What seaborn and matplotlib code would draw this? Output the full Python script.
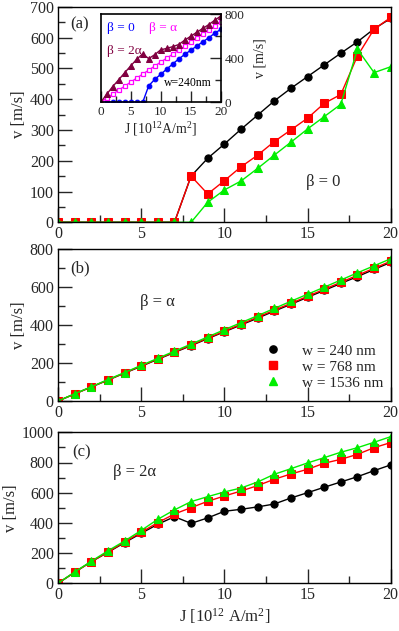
import numpy as np
import pandas as pd
import matplotlib
matplotlib.use("Agg")
import matplotlib.pyplot as plt
from matplotlib.lines import Line2D
from matplotlib.ticker import MultipleLocator
import seaborn as sns

# ---------------- data ----------------
J = list(range(21))

# panel (a) beta = 0
a_240 = [0, 0, 0, 0, 0, 0, 0, 0, 150, 208, 254, 302, 348, 394, 435, 473, 511, 549, 586, 628, 662]
a_768 = [0, 0, 0, 0, 0, 0, 0, 0, 150, 92, 135, 180, 218, 262, 300, 338, 386, 415, 540, 627, 665]
a_1536 = [0, 0, 0, 0, 0, 0, 0, 0, 0, 65, 105, 134, 175, 218, 260, 303, 343, 383, 562, 486, 505]

# panel (b) beta = alpha
b_240 = [0, 37, 74, 110, 147, 183, 220, 256, 292, 329, 365, 401, 437, 474, 510, 547, 583, 620, 656, 694, 731]
b_768 = [0, 37, 74, 111, 148, 185, 222, 258, 295, 332, 368, 405, 442, 479, 515, 552, 589, 626, 663, 700, 737]
b_1536 = [0, 38, 75, 113, 150, 188, 225, 263, 300, 338, 376, 413, 450, 488, 526, 563, 600, 638, 676, 713, 750]

# panel (c) beta = 2 alpha
c_240 = [0, 73, 143, 205, 269, 331, 391, 441, 397, 433, 477, 490, 506, 525, 565, 600, 636, 671, 706, 746, 784]
c_768 = [0, 73, 143, 208, 273, 338, 402, 459, 501, 543, 578, 611, 647, 689, 724, 755, 795, 821, 854, 898, 932]
c_1536 = [0, 75, 146, 215, 280, 350, 424, 486, 541, 574, 605, 631, 671, 722, 759, 797, 832, 868, 898, 934, 971]

width_labels = ["w = 240 nm", "w = 768 nm", "w = 1536 nm"]
beta_labels = ["β = 0", "β = α", "β = 2α"]
panel_labels = ["(a)", "(b)", "(c)"]

# ---------------- style ----------------
sns.set_style("ticks")
plt.rcParams['font.family'] = ['Liberation Serif', 'DejaVu Serif']
plt.rcParams['mathtext.fontset'] = 'custom'
plt.rcParams['mathtext.rm'] = 'Liberation Serif'
plt.rcParams['mathtext.it'] = 'Liberation Serif:italic'
plt.rcParams['axes.linewidth'] = 1.0
plt.rcParams['axes.edgecolor'] = 'black'

colors = ["black", "red", "#00ee00"]
markers = ["o", "s", "^"]
msizes = [5.2, 5.2, 5.8]

W, H = 399, 631
fig = plt.figure(figsize=(W / 100, H / 100), dpi=100)

def frac_box(x0, x1, ytop, ybot):
    return [x0 / W, 1 - ybot / H, (x1 - x0) / W, (ybot - ytop) / H]

axA = fig.add_axes(frac_box(58, 390.7, 6.7, 222.3))
axB = fig.add_axes(frac_box(58, 390.7, 249.3, 401))
axC = fig.add_axes(frac_box(58, 390.7, 432.3, 583.3))

def draw(ax, series):
    for vals, c, m, ms, lab in zip(series, colors, markers, msizes, width_labels):
        df = pd.DataFrame({"J": J, "v": vals})
        sns.lineplot(data=df, x="J", y="v", ax=ax, color=c, marker=m, markersize=ms,
                     markeredgecolor=c, linewidth=1.0, legend=False)

draw(axA, [a_240, a_768, a_1536])
draw(axB, [b_240, b_768, b_1536])
draw(axC, [c_240, c_768, c_1536])

def style_main(ax, ymax, ymaj, ymin):
    ax.set_xlim(0, 20)
    ax.set_ylim(0, ymax)
    ax.xaxis.set_major_locator(MultipleLocator(5))
    ax.xaxis.set_minor_locator(MultipleLocator(2.5))
    ax.yaxis.set_major_locator(MultipleLocator(ymaj))
    ax.yaxis.set_minor_locator(MultipleLocator(ymin))
    ax.tick_params(which='major', direction='in', length=10, width=1.0, labelsize=11.5,
                   top=False, right=False, pad=3)
    ax.tick_params(which='minor', direction='in', length=5, width=1.0, top=False, right=False)
    ax.set_ylabel("v [m/s]", fontsize=12, labelpad=2)
    ax.set_xlabel("")
    for s in ax.spines.values():
        s.set_visible(True)
        s.set_linewidth(1.0)

style_main(axA, 700, 100, 50)
style_main(axB, 800, 200, 100)
style_main(axC, 1000, 200, 100)
axC.set_xlabel("J [10$^{12}$ A/m$^2$]", fontsize=12, labelpad=2)

axA.text(0.036, 0.918, "(a)", transform=axA.transAxes, fontsize=12, va='center', ha='left')
axB.text(0.036, 0.877, "(b)", transform=axB.transAxes, fontsize=12, va='center', ha='left')
axC.text(0.042, 0.87, "(c)", transform=axC.transAxes, fontsize=12, va='center', ha='left')
axA.text(0.797, 0.187, beta_labels[0], transform=axA.transAxes, fontsize=12, va='center', ha='center')
axB.text(0.30, 0.653, beta_labels[1], transform=axB.transAxes, fontsize=12, va='center', ha='center')
axC.text(0.229, 0.739, beta_labels[2], transform=axC.transAxes, fontsize=12, va='center', ha='center')

# legend in (b)
handles = [Line2D([], [], linestyle='none', marker=m, color=c, markersize=ms, markeredgecolor=c)
           for c, m, ms in zip(colors, markers, msizes)]
axB.legend(handles, width_labels, loc='center left', bbox_to_anchor=(0.6, 0.225),
           frameon=False, fontsize=11, handletextpad=1.4, labelspacing=0.15,
           borderpad=0, handlelength=1.0)

# ---------------- inset ----------------
axI = fig.add_axes(frac_box(100.7, 220.7, 14.3, 102.3))
inset_colors = ["#0000ff", "#ff00ff", "#800040"]
inset_series = [a_240, b_240, c_240]
df0 = pd.DataFrame({"J": J, "v": inset_series[0]})
sns.lineplot(data=df0, x="J", y="v", ax=axI, color=inset_colors[0], marker='o', markersize=3.4,
             markeredgecolor=inset_colors[0], linewidth=1.0, legend=False)
df1 = pd.DataFrame({"J": J, "v": inset_series[1]})
sns.lineplot(data=df1, x="J", y="v", ax=axI, color=inset_colors[1], marker='s', markersize=3.4,
             markerfacecolor='white', markeredgecolor=inset_colors[1], markeredgewidth=0.9,
             linewidth=1.0, legend=False)
sns.scatterplot(data=df1, x="J", y="v", ax=axI, color=inset_colors[1], marker='.', s=3,
                linewidth=0, legend=False)
df2 = pd.DataFrame({"J": J, "v": inset_series[2]})
sns.lineplot(data=df2, x="J", y="v", ax=axI, color=inset_colors[2], marker='^', markersize=3.9,
             markeredgecolor=inset_colors[2], linewidth=1.0, legend=False)
axI.set_xlim(0, 20)
axI.set_ylim(0, 800)
axI.xaxis.set_major_locator(MultipleLocator(5))
axI.xaxis.set_minor_locator(MultipleLocator(2.5))
axI.yaxis.set_major_locator(MultipleLocator(400))
axI.yaxis.set_minor_locator(MultipleLocator(200))
axI.yaxis.tick_right()
axI.yaxis.set_label_position('right')
axI.tick_params(which='major', direction='in', length=8, width=1.0, labelsize=9.5,
                left=False, right=True, top=False, pad=3)
axI.tick_params(which='minor', direction='in', length=4, width=1.0, left=False, right=True, top=False)
axI.set_ylabel("v [m/s]", fontsize=10, labelpad=6)
axI.set_xlabel("J [10$^{12}$A/m$^2$]", fontsize=10, labelpad=1)
for s in axI.spines.values():
    s.set_visible(True)
    s.set_linewidth(1.2)
axI.text(0.05, 0.844, beta_labels[0], transform=axI.transAxes, color=inset_colors[0], fontsize=9.5, va='center')
axI.text(0.40, 0.844, beta_labels[1], transform=axI.transAxes, color=inset_colors[1], fontsize=9.5, va='center')
axI.text(0.05, 0.585, beta_labels[2], transform=axI.transAxes, color=inset_colors[2], fontsize=9.5, va='center')
axI.text(0.73, 0.216, "w=240nm", transform=axI.transAxes, color='black', fontsize=8.5, va='center', ha='center')

fig.savefig("out.png", dpi=100)
